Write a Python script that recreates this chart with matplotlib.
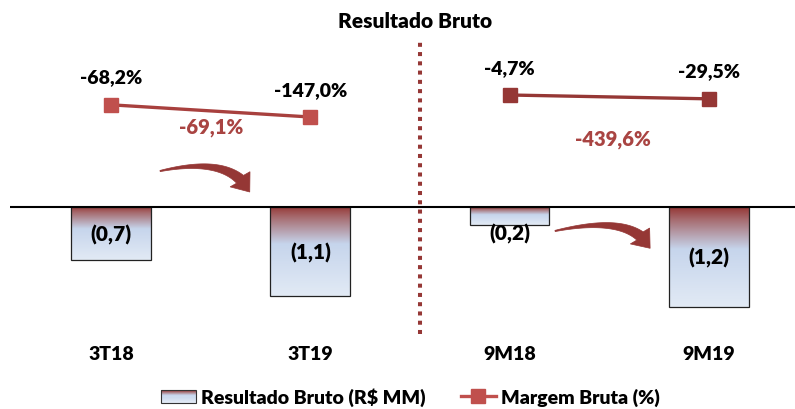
import numpy as np
import matplotlib
matplotlib.use("Agg")
import matplotlib.pyplot as plt
from matplotlib.patches import Rectangle, Patch, Polygon
from matplotlib.lines import Line2D
from matplotlib.colors import LinearSegmentedColormap
from matplotlib.legend_handler import HandlerPatch
from matplotlib.transforms import IdentityTransform

plt.rcParams['font.family'] = ['Lato', 'DejaVu Sans']
FW = "heavy"

# ---------------- data ----------------
categories = ["3T18", "3T19", "9M18", "9M19"]
resultado = [-0.66, -1.10, -0.22, -1.23]
resultado_labels = ["(0,7)", "(1,1)", "(0,2)", "(1,2)"]
margem_trim = [-68.2, -147.0]
margem_9m = [-4.7, -29.5]
margem_labels = ["-68,2%", "-147,0%", "-4,7%", "-29,5%"]
variacao_labels = ["-69,1%", "-439,6%"]
title = "Resultado Bruto"
legend_bar = "Resultado Bruto (R$ MM)"
legend_line = "Margem Bruta (%)"

# ---------------- style ----------------
dark_red = "#953735"
red = "#C0504D"
txt_red = "#A94442"
grad_cmap = LinearSegmentedColormap.from_list(
    "g", [(0.0, "#953735"), (0.12, "#A66A6E"), (0.42, "#C6D5EC"), (1.0, "#E2EAF5")])

fig = plt.figure(figsize=(7.95, 4.10), dpi=100)
ax = fig.add_axes([10/795, 75/410, 785/795, 295/410])
ax2 = ax.twinx()

x = np.arange(len(categories))
bw = 0.4
grad = np.linspace(0, 1, 256).reshape(-1, 1)
for xi, v in zip(x, resultado):
    rect = Rectangle((xi - bw/2, v), bw, -v, facecolor="none",
                     edgecolor="#222222", lw=0.9, zorder=3)
    ax.add_patch(rect)
    im = ax.imshow(grad, cmap=grad_cmap, aspect="auto",
                   extent=(xi - bw/2, xi + bw/2, v, 0), origin="upper",
                   zorder=2, interpolation="bilinear")
    im.set_clip_path(rect)

ax.set_xlim(-0.507, 3.432)
ax.set_ylim(-1.568, 2.074)
ax2.set_ylim(-1550.6, 357.5)

for xi, v, lab in zip(x, resultado, resultado_labels):
    ax.text(xi, min(v/2, -0.32), lab, ha="center", va="center",
            fontsize=15, fontweight=FW, color="black", zorder=5)

ax.axhline(0, color="black", lw=1.5, zorder=4)
ax.axvline(1.55, color=dark_red, lw=2.9, linestyle=(0, (1, 1.3)), zorder=1)

# lines
ax2.plot(x[:2], margem_trim, color="#A8403E", lw=2.4, marker="s",
         markersize=9.5, markerfacecolor=red, markeredgecolor=red, zorder=6)
ax2.plot(x[2:], margem_9m, color=dark_red, lw=2.4, marker="s",
         markersize=9.5, markerfacecolor=dark_red, markeredgecolor=dark_red, zorder=6)
for xi, v, lab in zip(x, margem_trim + margem_9m, margem_labels):
    ax2.annotate(lab, (xi, v), xytext=(0, 20), textcoords="offset points",
                 ha="center", va="center", fontsize=14, fontweight=FW)

ax.text(0.5, 0.99, variacao_labels[0], ha="center", va="center",
        fontsize=14.5, fontweight=FW, color=txt_red)
ax.text(2.52, 0.84, variacao_labels[1], ha="center", va="center",
        fontsize=14.5, fontweight=FW, color=txt_red)


# curved tapered arrows (decoration), drawn in display space
def curved_arrow(ax, p0, tip, color):
    fig.canvas.draw()
    P0 = ax.transData.transform(p0)
    T = ax.transData.transform(tip)
    s = np.array([1.0, 0.22]); s /= np.linalg.norm(s)
    e = np.array([0.45, -0.89]); e /= np.linalg.norm(e)
    A = np.column_stack([s, e])
    a, b = np.linalg.solve(A, T - P0)
    C = P0 + a * s
    t = np.linspace(0, 1, 400)[:, None]
    B = (1 - t) ** 2 * P0 + 2 * (1 - t) * t * C + t ** 2 * T
    d = np.linalg.norm(B - T, axis=1)
    head_len = 16.0
    ih = np.argmax(d < head_len)
    shaft = B[:ih + 1]
    tang = np.gradient(shaft, axis=0)
    tang /= np.linalg.norm(tang, axis=1)[:, None]
    nrm = np.column_stack([-tang[:, 1], tang[:, 0]])
    w = np.linspace(0.6, 5.2, len(shaft))[:, None]
    left = shaft + nrm * w
    right = shaft - nrm * w
    base = shaft[-1]
    dirv = (T - base) / np.linalg.norm(T - base)
    n2 = np.array([-dirv[1], dirv[0]])
    hw = 12.5
    poly = np.vstack([left, base + n2 * hw, T, base - n2 * hw, right[::-1]])
    ax.add_patch(Polygon(poly, closed=True, transform=IdentityTransform(),
                         facecolor=color, edgecolor=color, lw=0.5, zorder=5))

curved_arrow(ax, (0.246, 0.444), (0.696, 0.185), dark_red)
curved_arrow(ax, (2.228, -0.296), (2.705, -0.51), dark_red)

for a in (ax, ax2):
    for s in a.spines.values():
        s.set_visible(False)
ax2.set_yticks([])
ax.set_yticks([])
ax.set_xticks(x)
ax.set_xticklabels(categories, fontsize=14, fontweight=FW)
ax.tick_params(axis="x", length=0, pad=8)
ax.patch.set_visible(False)

fig.text(415/795, 1 - 22/410, title, ha="center", va="center",
         fontsize=15, fontweight=FW)

class HandlerGrad(HandlerPatch):
    def create_artists(self, legend, orig_handle, xdescent, ydescent,
                       width, height, fontsize, trans):
        arts = []
        n = 12
        for i in range(n):
            c = grad_cmap(i / (n - 1))
            r = Rectangle((-xdescent, -ydescent + height * (1 - (i + 1) / n)),
                          width, height / n, facecolor=c, edgecolor="none",
                          transform=trans)
            arts.append(r)
        arts.append(Rectangle((-xdescent, -ydescent), width, height,
                              facecolor="none", edgecolor="#333333", lw=0.8,
                              transform=trans))
        return arts

bar_handle = Patch(facecolor="#C6D5EC", edgecolor="#333333")
line_handle = Line2D([], [], color=red, lw=2.4, marker="s", markersize=9.5,
                     markerfacecolor=red, markeredgecolor=red)
fig.legend([bar_handle, line_handle], [legend_bar, legend_line],
           handler_map={Patch: HandlerGrad()}, ncol=2, loc="center",
           bbox_to_anchor=(0.516, 1 - 398/410), frameon=False,
           prop={"size": 14, "weight": FW}, handlelength=1.8,
           handletextpad=0.26, columnspacing=1.8, handleheight=0.7)

fig.savefig("out.png", dpi=100)
